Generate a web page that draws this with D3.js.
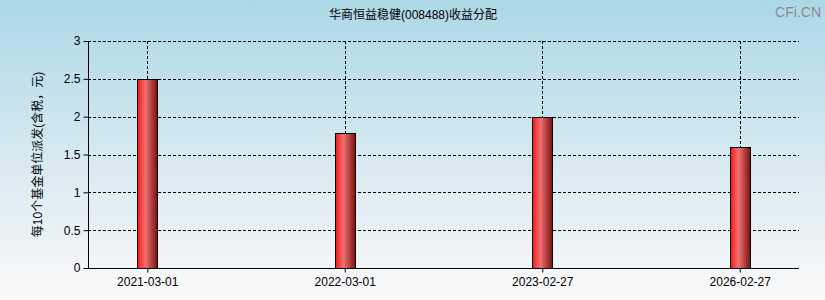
<!DOCTYPE html>
<html>
<head>
<meta charset="utf-8">
<script src="https://cdn.jsdelivr.net/npm/d3@7"></script>
<style>
  body { margin: 0; }
  svg text { font-family: "Liberation Sans", Arial, "Noto Sans CJK SC", sans-serif; }
</style>
</head>
<body>
<div id="chart"></div>
<script>
// data
var dates = ['2021-03-01', '2022-03-01', '2023-02-27', '2026-02-27'];
var payout = [2.5, 1.78, 2.0, 1.6];
var yTicks = [0, 0.5, 1, 1.5, 2, 2.5, 3];
var title = '华商恒益稳健(008488)收益分配';
var yLabel = '每10个基金单位派发(含税，元)';

var width = 825, height = 300;
var margin = {top: 41, right: 26, bottom: 32, left: 88};

var svg = d3.select('#chart').append('svg')
    .attr('width', width)
    .attr('height', height);

var defs = svg.append('defs');
var bg = defs.append('linearGradient').attr('id', 'bg')
    .attr('x1', 0).attr('y1', 0).attr('x2', 0).attr('y2', 1);
bg.append('stop').attr('offset', '0%').attr('stop-color', '#acd8e6');
bg.append('stop').attr('offset', '100%').attr('stop-color', '#fcf9f9');

var barGrad = defs.append('linearGradient').attr('id', 'bar')
    .attr('x1', 0).attr('y1', 0).attr('x2', 1).attr('y2', 0);
barGrad.append('stop').attr('offset', '0%').attr('stop-color', '#ff1010');
barGrad.append('stop').attr('offset', '15%').attr('stop-color', '#f53a3a');
barGrad.append('stop').attr('offset', '40%').attr('stop-color', '#ee7070');
barGrad.append('stop').attr('offset', '100%').attr('stop-color', '#7a1010');

svg.append('rect')
    .attr('width', width)
    .attr('height', height)
    .attr('fill', 'url(#bg)');

var x = d3.scalePoint()
    .domain(dates)
    .range([margin.left, width - margin.right])
    .padding(0.3);

var y = d3.scaleLinear()
    .domain([0, 3])
    .range([height - margin.bottom, margin.top]);

// horizontal grid
svg.append('g')
    .selectAll('line')
    .data(yTicks.filter(d => d > 0))
    .join('line')
    .attr('x1', margin.left)
    .attr('x2', width - margin.right)
    .attr('y1', d => Math.round(y(d)) + 0.5)
    .attr('y2', d => Math.round(y(d)) + 0.5)
    .attr('stroke', '#000')
    .attr('stroke-dasharray', '3,2');

// vertical grid at each category
svg.append('g')
    .selectAll('line')
    .data(dates)
    .join('line')
    .attr('x1', d => Math.round(x(d)) + 0.5)
    .attr('x2', d => Math.round(x(d)) + 0.5)
    .attr('y1', margin.top)
    .attr('y2', height - margin.bottom)
    .attr('stroke', '#000')
    .attr('stroke-dasharray', '3,2');

// bars
var barW = 20;
svg.append('g')
    .selectAll('rect')
    .data(dates)
    .join('rect')
    .attr('x', d => Math.round(x(d) - barW / 2) + 0.5)
    .attr('y', (d, i) => Math.round(y(payout[i])) + 0.5)
    .attr('width', barW)
    .attr('height', (d, i) => Math.round(y(0)) - Math.round(y(payout[i])))
    .attr('fill', 'url(#bar)')
    .attr('stroke', '#000')
    .attr('stroke-width', 1);

// axes
var yAxis = svg.append('g')
    .attr('transform', `translate(${margin.left + 0.5},0)`)
    .call(d3.axisLeft(y).tickValues(yTicks).tickSize(5).tickFormat(d3.format('')));
var xAxis = svg.append('g')
    .attr('transform', `translate(0,${Math.round(y(0)) + 0.5})`)
    .call(d3.axisBottom(x).tickSize(4).tickSizeOuter(0));

[yAxis, xAxis].forEach(function(g){
    g.select('.domain').attr('stroke', '#000');
    g.selectAll('.tick line').attr('stroke', '#000');
    g.selectAll('.tick text').attr('fill', '#000').style('font-size', '12px');
});
xAxis.select('.domain').attr('d', `M${margin.left},0H${width - margin.right}`);
yAxis.select('.domain').attr('d', `M0,${margin.top}V${Math.round(y(0))}`);
xAxis.selectAll('.tick text').attr('dy', '0.9em');

// title
svg.append('text')
    .attr('x', 413)
    .attr('y', 19)
    .attr('text-anchor', 'middle')
    .style('font-size', '12px')
    .attr('fill', '#000')
    .text(title);

// watermark
svg.append('text')
    .attr('x', 821)
    .attr('y', 17)
    .attr('text-anchor', 'end')
    .style('font-size', '14px')
    .attr('fill', '#8a8a8a')
    .text('CFi.CN');

// y label
svg.append('text')
    .attr('transform', `translate(42,${(margin.top + height - margin.bottom) / 2}) rotate(-90)`)
    .attr('text-anchor', 'middle')
    .style('font-size', '12px')
    .attr('fill', '#000')
    .text(yLabel);
</script>
</body>
</html>
